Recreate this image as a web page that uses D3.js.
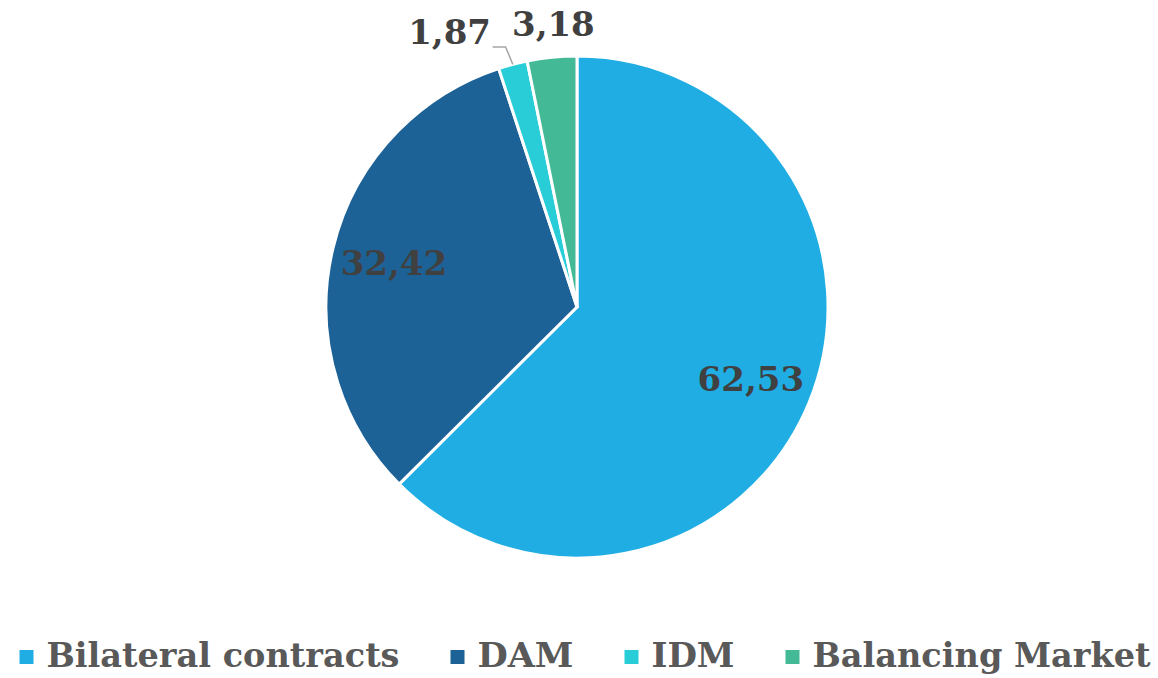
<!DOCTYPE html>
<html>
<head>
<meta charset="utf-8">
<script src="https://cdn.jsdelivr.net/npm/d3@7"></script>
<style>
  body { margin: 0; background: #fff; }
  svg text { font-family: "DejaVu Serif", serif; font-weight: bold; }
</style>
</head>
<body>
<div id="chart"></div>
<script>
// Market shares (%)
var categories = ['Bilateral contracts', 'DAM', 'IDM', 'Balancing Market'];
var values = [62.53, 32.42, 1.87, 3.18];
var valueLabels = ['62,53', '32,42', '1,87', '3,18'];
var colors = ['#1fade4', '#1d6296', '#29cdd8', '#43b996'];

var width = 1158,
    height = 678,
    radius = 251,
    cx = 577,
    cy = 307;

var svg = d3.select('#chart')
            .append('svg')
            .attr('width', width)
            .attr('height', height);

var g = svg.append('g')
           .attr('transform', 'translate(' + cx + ',' + cy + ')');

var pie = d3.pie().sort(null).value(function(d) { return d; });
var arcs = pie(values);

var arc = d3.arc().innerRadius(0).outerRadius(radius);
var inLabel = d3.arc().innerRadius(radius * 0.75).outerRadius(radius * 0.75);
var outLabel = d3.arc().innerRadius(radius + 36).outerRadius(radius + 36);
var edge = d3.arc().innerRadius(radius).outerRadius(radius);

// slices
g.selectAll('path')
  .data(arcs)
  .enter()
  .append('path')
   .attr('d', arc)
   .attr('fill', function(d, i) { return colors[i]; })
   .attr('stroke', '#fff')
   .attr('stroke-width', 3)
   .attr('stroke-linejoin', 'round');

// small slices get their labels outside, nudged like the original
var nudge = { 2: [-54, 2], 3: [5, 2] };

// leader line for IDM
var p0 = edge.centroid(arcs[2]);
var lp = outLabel.centroid(arcs[2]);
var lx = lp[0] + nudge[2][0], ly = lp[1] + nudge[2][1];
g.append('polyline')
  .attr('points', [[p0[0], p0[1]], [lx + 56, ly + 15.5], [lx + 43, ly + 15.5]].map(function(p) { return p.join(','); }).join(' '))
  .attr('fill', 'none')
  .attr('stroke', '#a6a6a6')
  .attr('stroke-width', 1.5);

g.selectAll('text.value')
  .data(arcs)
  .enter()
  .append('text')
   .attr('class', 'value')
   .attr('transform', function(d, i) {
     var c;
     if (nudge[i]) {
       c = outLabel.centroid(d);
       c = [c[0] + nudge[i][0], c[1] + nudge[i][1]];
     } else {
       c = inLabel.centroid(d);
     }
     return 'translate(' + c[0] + ',' + c[1] + ')';
   })
   .attr('text-anchor', 'middle')
   .attr('dy', '0.36em')
   .attr('font-size', 34)
   .attr('fill', '#404040')
   .text(function(d, i) { return valueLabels[i]; });

// legend
var legendWidths = [353, 96, 83, 338];
var legend = svg.append('g').attr('class', 'legend');
var item = legend.selectAll('g')
  .data(categories)
  .enter()
  .append('g');

item.append('rect')
   .attr('width', 14)
   .attr('height', 14)
   .attr('y', -17)
   .attr('fill', function(d, i) { return colors[i]; });

item.append('text')
   .attr('x', 27)
   .attr('font-size', 34)
   .attr('fill', '#595959')
   .attr('textLength', function(d, i) { return legendWidths[i]; })
   .attr('lengthAdjust', 'spacingAndGlyphs')
   .text(function(d) { return d; });

// lay legend items out in one row, centred
var gap = 51, x = 0, pos = [];
legendWidths.forEach(function(w) {
  pos.push(x);
  x += 27 + w + gap;
});
var total = x - gap;
var startX = (width - total) / 2 + 6;
item.attr('transform', function(d, i) {
  return 'translate(' + (startX + pos[i]) + ',' + 667 + ')';
});
</script>
</body>
</html>
